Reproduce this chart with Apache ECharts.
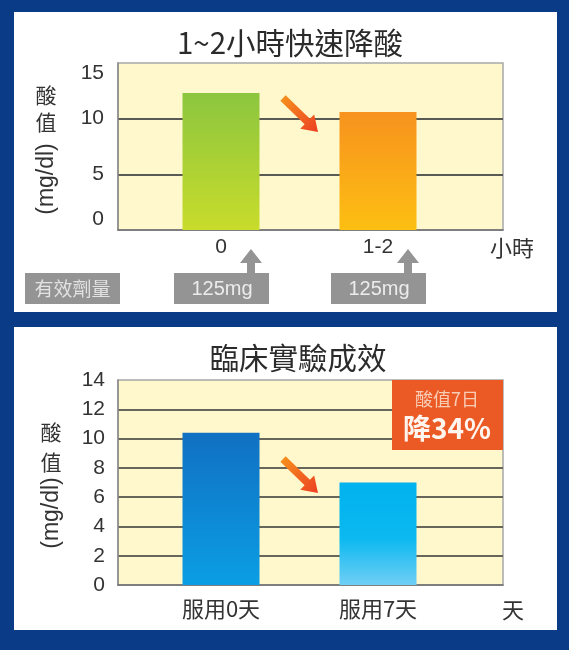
<!DOCTYPE html>
<html><head><meta charset="utf-8">
<script src="https://cdn.jsdelivr.net/npm/echarts@6/dist/echarts.min.js"></script>
<style>
html,body{margin:0;padding:0;background:#0a3b87;}
#wrap{position:relative;width:569px;height:650px;background:#0a3b87;overflow:hidden;}
.panel{position:absolute;left:14px;width:543px;background:#fff;}
#chart{position:absolute;left:0;top:0;width:569px;height:650px;}
</style></head><body>
<div id="wrap">
<div class="panel" style="top:12px;height:300px"></div>
<div class="panel" style="top:327px;height:303px"></div>
<div id="chart"></div>
</div>
<script>
// ---- data ----
const topTitle = '1~2小時快速降酸';
const topCategories = ['0', '1-2'];
const topValues = [12.3, 10.6];
const topYMax = 15;
const topYInterval = 5;
const topUnit = '小時';
const doseLabel = '有效劑量';
const doses = ['125mg', '125mg'];

const bottomTitle = '臨床實驗成效';
const bottomCategories = ['服用0天', '服用7天'];
const bottomValues = [10.4, 7.0];
const bottomYMax = 14;
const bottomYInterval = 2;
const bottomUnit = '天';

const yNameCJK = '酸\n值';
const yNameUnit = '(mg/dl)';
const badgeLine1 = '酸值7日';
const badgeLine2 = '降34%';

// ---- styles ----
const CJK = '"Noto Sans CJK TC","Noto Sans CJK SC",sans-serif';
const LAT = '"Liberation Sans",Arial,sans-serif';
const TXT = '#333333';
function grad(stops) {
  return {type: 'linear', x: 0, y: 0, x2: 0, y2: 1,
    colorStops: stops.map(s => ({offset: s[0], color: s[1]}))};
}
const topColors = [
  grad([[0, '#8cc63f'], [1, '#c8dc2b']]),
  grad([[0, '#f7921e'], [1, '#fdbf12']])
];
const bottomColors = [
  grad([[0, '#1170c2'], [1, '#0a9ee4']]),
  grad([[0, '#00b2ee'], [0.55, '#0cb9f0'], [1, '#70cff5']])
];

const plotLeft = 118, plotWidth = 385;
const barBand = 157, barLeft = 142.5;

function bgGrid(top, height) {
  return {left: plotLeft, top: top, width: plotWidth, height: height, show: true,
    backgroundColor: '#fef8cc', borderColor: '#a8a8a8', borderWidth: 1.5};
}
function barGrid(top, height) {
  return {left: barLeft, top: top, width: barBand * 2, height: height, show: false};
}

const chart = echarts.init(document.getElementById('chart'), null, {renderer: 'canvas'});

const option = {
  backgroundColor: 'transparent',
  animation: false,
  title: [
    {text: topTitle, left: 285, top: 23, textAlign: 'center',
      textStyle: {fontFamily: CJK, fontSize: 29.5, fontWeight: 'normal', color: '#2b2b2b'}},
    {text: bottomTitle, left: 293, top: 338, textAlign: 'center',
      textStyle: {fontFamily: CJK, fontSize: 29.5, fontWeight: 'normal', color: '#2b2b2b'}}
  ],
  grid: [bgGrid(63, 167), barGrid(63, 167), bgGrid(380, 205), barGrid(380, 205)],
  xAxis: [
    {gridIndex: 0, type: 'category', data: [''], axisTick: {show: false}, axisLabel: {show: false},
      axisLine: {lineStyle: {color: '#6b6b6b', width: 1.5}},
      name: topUnit, nameLocation: 'end', nameGap: 9,
      nameTextStyle: {fontFamily: CJK, fontSize: 22, color: TXT, align: 'center', verticalAlign: 'top', padding: [7, 0, 0, 0]}},
    {gridIndex: 1, type: 'category', data: topCategories, axisTick: {show: false}, axisLine: {show: false},
      axisLabel: {fontFamily: LAT, fontSize: 21, color: TXT, margin: 7}},
    {gridIndex: 2, type: 'category', data: [''], axisTick: {show: false}, axisLabel: {show: false},
      axisLine: {lineStyle: {color: '#6b6b6b', width: 1.5}},
      name: bottomUnit, nameLocation: 'end', nameGap: 10,
      nameTextStyle: {fontFamily: CJK, fontSize: 22, color: TXT, align: 'center', verticalAlign: 'top', padding: [14, 0, 0, 0]}},
    {gridIndex: 3, type: 'category', data: bottomCategories, axisTick: {show: false}, axisLine: {show: false},
      axisLabel: {fontFamily: CJK, fontSize: 22, color: TXT, margin: 13}}
  ],
  yAxis: [
    {gridIndex: 0, type: 'value', min: 0, max: topYMax, interval: topYInterval,
      axisLine: {show: true, lineStyle: {color: '#8a8a8a', width: 1.5}}, axisTick: {show: false},
      axisLabel: {fontFamily: LAT, fontSize: 21, color: TXT, margin: 14,
        verticalAlignMaxLabel: 'top', verticalAlignMinLabel: 'bottom'},
      splitLine: {show: true, showMinLine: false, showMaxLine: false, lineStyle: {color: '#5a5a55', width: 2}}},
    {gridIndex: 1, type: 'value', min: 0, max: topYMax, show: false},
    {gridIndex: 2, type: 'value', min: 0, max: bottomYMax, interval: bottomYInterval,
      axisLine: {show: true, lineStyle: {color: '#8a8a8a', width: 1.5}}, axisTick: {show: false},
      axisLabel: {fontFamily: LAT, fontSize: 21, color: TXT, margin: 13},
      splitLine: {show: true, showMinLine: false, showMaxLine: false, lineStyle: {color: '#66665a', width: 2}}},
    {gridIndex: 3, type: 'value', min: 0, max: bottomYMax, show: false}
  ],
  series: [
    {type: 'bar', xAxisIndex: 1, yAxisIndex: 1, barWidth: 77,
      data: topValues.map((v, i) => ({value: v, itemStyle: {color: topColors[i]}}))},
    {type: 'bar', xAxisIndex: 3, yAxisIndex: 3, barWidth: 77,
      data: bottomValues.map((v, i) => ({value: v, itemStyle: {color: bottomColors[i]}}))}
  ]
};
chart.setOption(option);

// ---- annotations ----
function arrowPts(x1, y1, x2, y2, sh, hl, hh) {
  const dx = x2 - x1, dy = y2 - y1, L = Math.hypot(dx, dy);
  const ux = dx / L, uy = dy / L, px = -uy, py = ux;
  const bx = x2 - ux * hl, by = y2 - uy * hl;
  return [[x1 + px * sh, y1 + py * sh], [bx + px * sh, by + py * sh], [bx + px * hh, by + py * hh],
    [x2, y2], [bx - px * hh, by - py * hh], [bx - px * sh, by - py * sh], [x1 - px * sh, y1 - py * sh]];
}
const arrowFill = {type: 'linear', x: 0, y: 0, x2: 1, y2: 1,
  colorStops: [{offset: 0, color: '#f7941d'}, {offset: 1, color: '#ec3f22'}]};
const gray = '#949494';
const graphics = [];

// orange trend arrows
[[283, 98, 318, 132], [283, 459, 318, 493]].forEach(a => {
  graphics.push({type: 'polygon', shape: {points: arrowPts(a[0], a[1], a[2], a[3], 3.8, 15, 10)},
    style: {fill: arrowFill}, z: 10});
});

// dose label box
graphics.push({type: 'rect', shape: {x: 25, y: 273, width: 95, height: 31}, style: {fill: gray}, z: 10});
graphics.push({type: 'text', x: 72.5, y: 288.5, z: 11,
  style: {text: doseLabel, font: '19px ' + CJK, fill: '#e2e2e2', align: 'center', verticalAlign: 'middle'}});

// dose boxes + up arrows under each category
topCategories.forEach((c, i) => {
  const cx = chart.convertToPixel({xAxisIndex: 1}, c);
  graphics.push({type: 'rect', shape: {x: cx - 47, y: 273, width: 95, height: 31}, style: {fill: gray}, z: 10});
  graphics.push({type: 'text', x: cx + 1, y: 289, z: 11,
    style: {text: doses[i], font: '20px ' + LAT, fill: '#ececec', align: 'center', verticalAlign: 'middle'}});
  const ax = cx + 30;
  graphics.push({type: 'polygon', z: 10, style: {fill: gray},
    shape: {points: [[ax, 249], [ax + 11, 263], [ax + 4, 263], [ax + 4, 274], [ax - 4, 274], [ax - 4, 263], [ax - 11, 263]]}});
});

// y axis titles
[[46, 108.5, 27, 47, 179], [51, 447, 30, 52, 513]].forEach(p => {
  graphics.push({type: 'text', x: p[0], y: p[1], z: 11,
    style: {text: yNameCJK, font: '21px ' + CJK, lineHeight: p[2], fill: TXT, align: 'center', verticalAlign: 'middle'}});
  graphics.push({type: 'text', x: p[3], y: p[4], rotation: Math.PI / 2, z: 11,
    style: {text: yNameUnit, font: '23px ' + LAT, fill: TXT, align: 'center', verticalAlign: 'middle'}});
});

// badge
graphics.push({type: 'rect', shape: {x: 392, y: 380, width: 111, height: 70}, style: {fill: '#eb5a25'}, z: 10});
graphics.push({type: 'text', x: 447, y: 399, z: 11,
  style: {text: badgeLine1, font: '18px ' + CJK, fill: '#f8cdb6', align: 'center', verticalAlign: 'middle'}});
graphics.push({type: 'text', x: 447, y: 428, z: 11,
  style: {text: badgeLine2, font: 'bold 28px ' + CJK, fill: '#fff5ef', align: 'center', verticalAlign: 'middle'}});

chart.setOption({graphic: graphics});
</script>
</body></html>
